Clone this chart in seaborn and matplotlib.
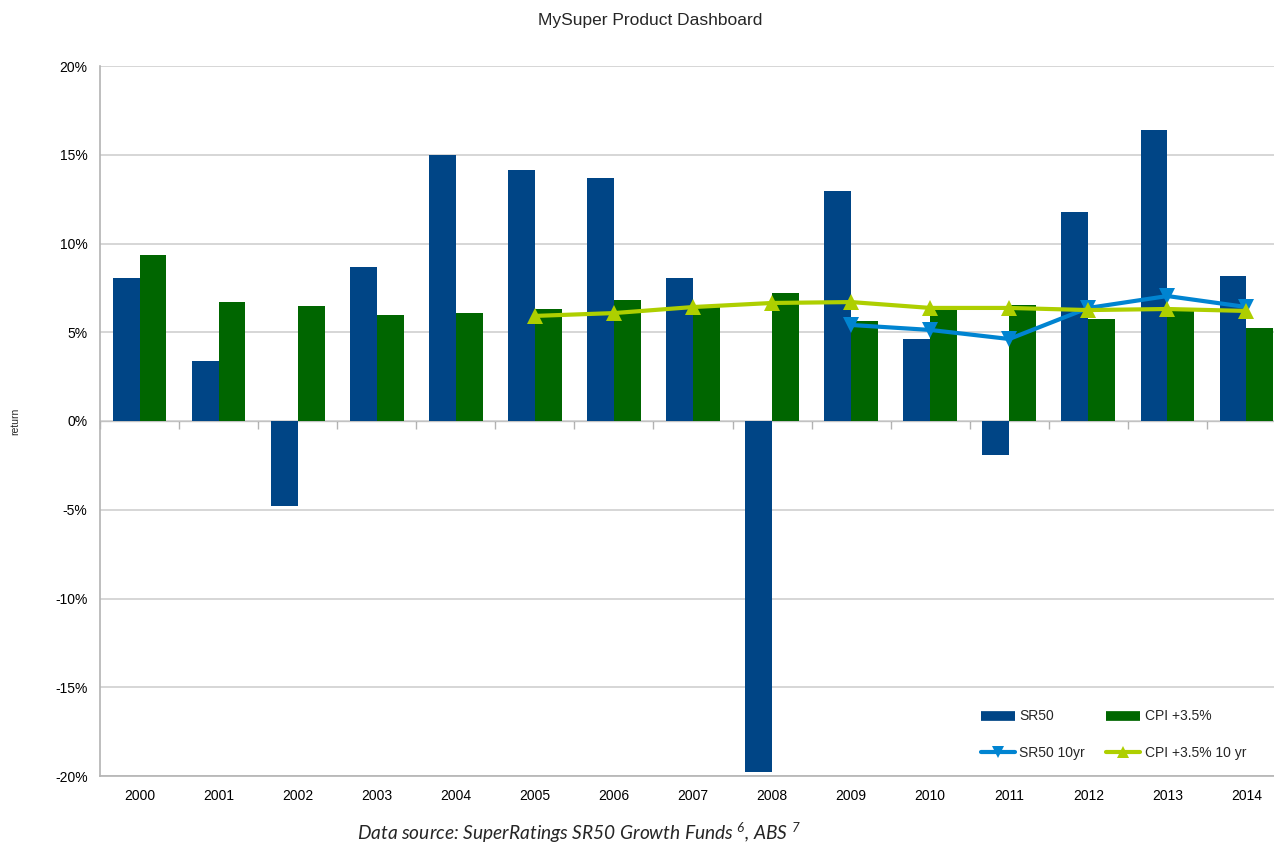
import numpy as np
import pandas as pd
import matplotlib
matplotlib.use("Agg")
import matplotlib.pyplot as plt
from matplotlib.lines import Line2D
from matplotlib.ticker import FixedLocator, FuncFormatter
import seaborn as sns

# data (percent)
years = [str(y) for y in range(2000, 2015)]
sr50 = [8.06, 3.38, -4.79, 8.68, 14.99, 14.14, 13.69, 8.06, -19.77, 12.96,
        4.62, -1.92, 11.77, 16.39, 8.17]
cpi = [9.35, 6.70, 6.48, 5.97, 6.08, 6.31, 6.82, 6.48, 7.21, 5.63,
       6.25, 6.54, 5.75, 6.20, 5.24]
sr50_10yr = [np.nan] * 9 + [5.41, 5.13, 4.62, 6.37, 7.04, 6.42]
cpi_10yr = [np.nan] * 5 + [5.92, 6.08, 6.42, 6.65, 6.70, 6.37, 6.37, 6.25, 6.31, 6.20]

blue = "#004586"
green = "#006600"
lblue = "#0084d1"
lime = "#aecf00"

sns.set_style("white")
plt.rcParams["font.family"] = ["Liberation Sans", "DejaVu Sans"]
plt.rcParams["mathtext.fontset"] = "custom"
plt.rcParams["mathtext.rm"] = "Lato:italic"
plt.rcParams["mathtext.it"] = "Lato:italic"

bars = pd.DataFrame({
    "year": years * 2,
    "series": ["SR50"] * len(years) + ["CPI +3.5%"] * len(years),
    "value": sr50 + cpi,
})
idx = np.arange(len(years))

fig = plt.figure(figsize=(12.74, 8.5), dpi=100)
ax = fig.add_axes([100 / 1274, 74 / 850, 1186 / 1274, 710 / 850])

sns.barplot(data=bars, x="year", y="value", hue="series",
            palette=[blue, green], width=0.68, saturation=1,
            linewidth=0, legend=False, ax=ax, zorder=2)
sns.lineplot(x=idx, y=sr50_10yr, color=lblue, lw=3, marker="v",
             markersize=11, markeredgewidth=0, ax=ax, zorder=4)
sns.lineplot(x=idx, y=cpi_10yr, color=lime, lw=3, marker="^",
             markersize=11, markeredgewidth=0, ax=ax, zorder=4)

ax.set_xlim(-0.5, len(years) - 0.5)
ax.set_ylim(-20, 20)
ax.set_yticks(range(-20, 21, 5))
ax.yaxis.set_major_formatter(FuncFormatter(lambda v, p: f"{int(v)}%"))
ax.grid(axis="y", color="#d3d3d3", lw=1.3, zorder=0)
ax.set_axisbelow(True)

for s in ["top", "right"]:
    ax.spines[s].set_visible(False)
for s in ["left", "bottom"]:
    ax.spines[s].set_color("#b3b3b3")
    ax.spines[s].set_linewidth(1.2)

ax.xaxis.set_minor_locator(FixedLocator(idx - 0.5))
ax.tick_params(axis="x", which="major", length=0, labelsize=10, pad=9, colors="black")
ax.tick_params(axis="x", which="minor", length=7, width=1, color="#b3b3b3", direction="out")
ax.tick_params(axis="y", length=5, width=1, color="#b3b3b3", labelsize=10, pad=4, colors="black")
ax.tick_params(axis="y", color="#b3b3b3")

# zero line with its own small ticks hanging below
zero = ax.secondary_xaxis(0.5)
zero.set_xticks(idx - 0.5)
zero.set_xticklabels([])
zero.tick_params(length=6, width=1, color="#b3b3b3", direction="in")
zero.spines["bottom"].set_color("#b3b3b3")
zero.spines["bottom"].set_linewidth(1.3)

ax.set_xlabel("")
ax.set_ylabel("")
fig.text(15 / 1274, 1 - 421 / 850, "return", rotation=90, fontsize=7.5,
         ha="center", va="center")

fig.text(650 / 1274, 1 - 20 / 850, "MySuper Product Dashboard", fontsize=12.5,
         ha="center", va="center")

handles = [
    Line2D([], [], color=blue, lw=7, solid_capstyle="butt"),
    Line2D([], [], color=lblue, lw=3, marker="v", markersize=8, markeredgewidth=0),
    Line2D([], [], color=green, lw=7, solid_capstyle="butt"),
    Line2D([], [], color=lime, lw=3, marker="^", markersize=8, markeredgewidth=0),
]
labels = ["SR50", "SR50 10yr", "CPI +3.5%", "CPI +3.5% 10 yr"]
ax.legend(handles, labels, ncol=2, frameon=False, fontsize=10,
          loc="upper left", bbox_to_anchor=(968 / 1274, 1 - 697 / 850),
          bbox_transform=fig.transFigure, handlelength=2.45, handletextpad=0.35,
          columnspacing=1.5, labelspacing=1.6)

fig.text(579 / 1274, 1 - 833 / 850,
         r"Data source: SuperRatings SR50 Growth Funds $^{6}$, ABS $^{7}$",
         fontsize=13.8, family="Lato", style="italic", ha="center", va="center")

fig.savefig("out.png", dpi=100)
